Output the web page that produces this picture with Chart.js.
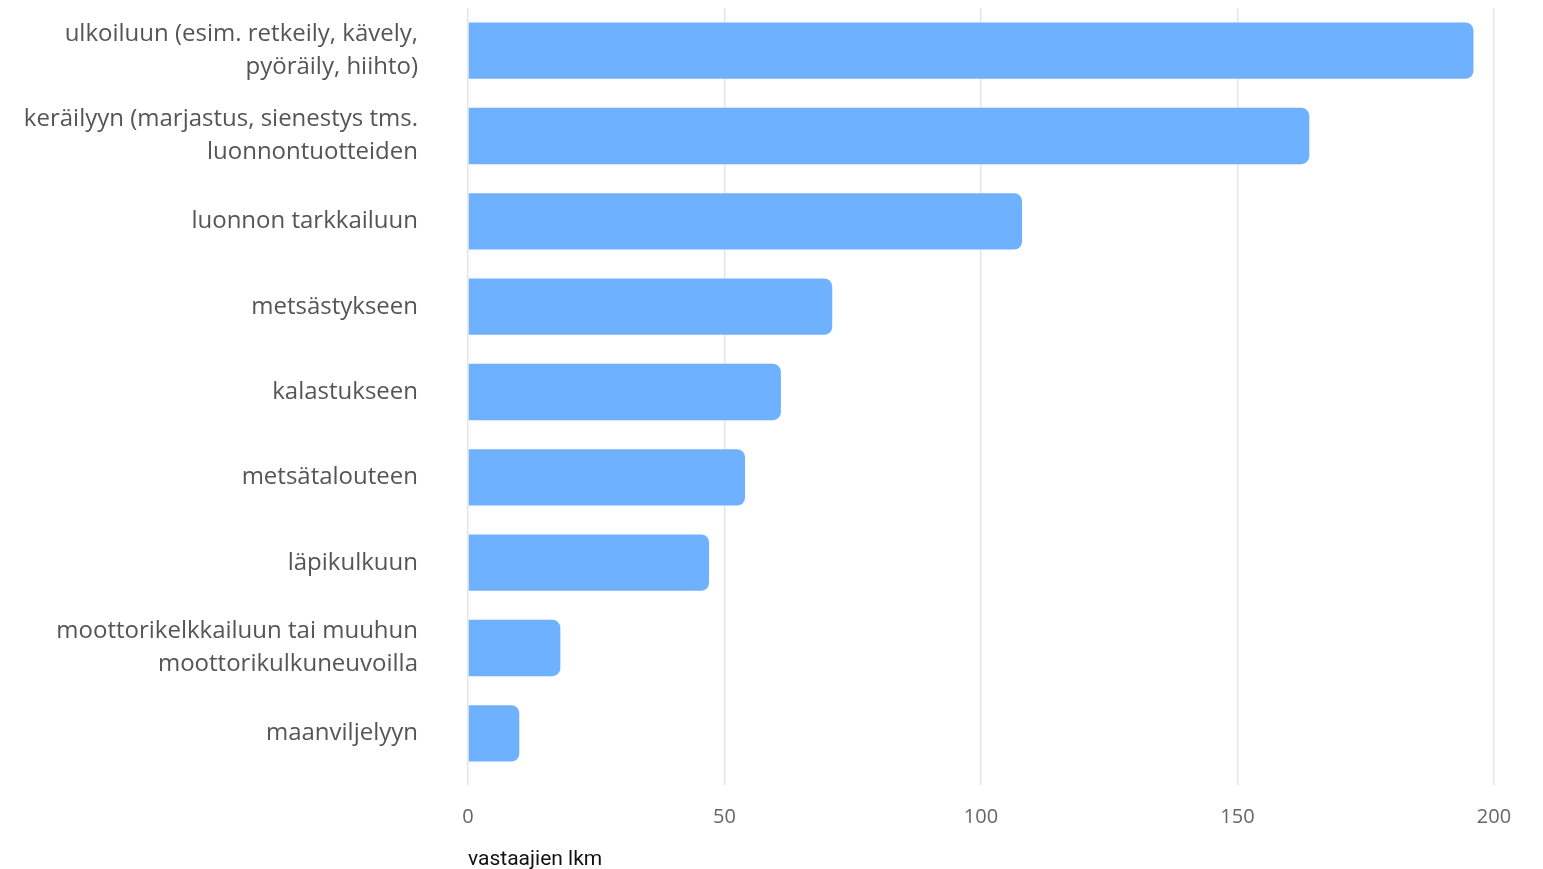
<!DOCTYPE html>
<html>
<head>
<meta charset="utf-8">
<script src="https://cdn.jsdelivr.net/npm/chart.js@4"></script>
<style>
  body { margin: 0; background: #fff; }
  #wrap { width: 1543px; height: 869px; }
</style>
</head>
<body>
<div id="wrap"><canvas id="kaavio"></canvas></div>
<script>
// Luokat (rivitetyt nimet taulukkoina)
const luokat = [
    ['ulkoiluun (esim. retkeily, kävely,', 'pyöräily, hiihto)'],
    ['keräilyyn (marjastus, sienestys tms.', 'luonnontuotteiden'],
    'luonnon tarkkailuun',
    'metsästykseen',
    'kalastukseen',
    'metsätalouteen',
    'läpikulkuun',
    ['moottorikelkkailuun tai muuhun', 'moottorikulkuneuvoilla'],
    'maanviljelyyn'
];
const vastaajat = [196, 164, 108, 71, 61, 54, 47, 18, 10];
const akselinOtsikko = 'vastaajien lkm';

const ctx = document.getElementById('kaavio').getContext('2d');

new Chart(ctx, {
    type: 'bar',
    data: {
        labels: luokat,
        datasets: [{
            data: vastaajat,
            backgroundColor: '#6eb1fe',
            borderRadius: 8,
            borderSkipped: 'start',
            categoryPercentage: 1,
            barPercentage: 0.66
        }]
    },
    options: {
        indexAxis: 'y',
        responsive: true,
        maintainAspectRatio: false,
        animation: false,
        layout: { padding: { top: 8, right: 49, bottom: 0 } },
        plugins: {
            legend: { display: false },
            tooltip: { enabled: true }
        },
        scales: {
            x: {
                min: 0,
                max: 200,
                afterFit: (scale) => { scale.height = 93; },
                ticks: {
                    stepSize: 50,
                    padding: 20,
                    color: '#666',
                    font: { family: 'Open Sans', size: 20 }
                },
                grid: { color: '#e6e6e6', lineWidth: 1.5, tickLength: 9 },
                border: { display: false },
                title: {
                    display: true,
                    text: akselinOtsikko,
                    align: 'start',
                    color: '#111',
                    padding: { top: 17, bottom: -3 },
                    font: { family: 'Roboto', size: 21 }
                }
            },
            y: {
                afterFit: (scale) => {
                    scale.width = 468;
                    scale.paddingTop = 0;
                    scale.paddingBottom = 0;
                },
                grid: { display: false, drawTicks: false },
                border: { display: false },
                ticks: {
                    padding: 50,
                    color: '#555',
                    font: { family: 'Open Sans', size: 24, lineHeight: 1.375 }
                }
            }
        }
    }
});
</script>
</body>
</html>
